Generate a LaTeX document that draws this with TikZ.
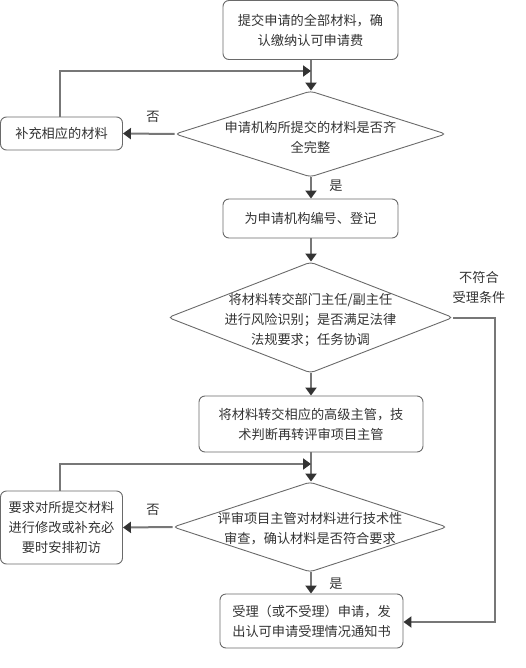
\documentclass[tikz,border=0pt]{standalone}
\usepackage{fontspec}
\setmainfont{Noto Sans CJK SC}
\usetikzlibrary{arrows.meta,shapes.geometric}
\definecolor{linegray}{HTML}{777777}
\definecolor{boxgray}{HTML}{6A6A6A}
\definecolor{tipgray}{HTML}{333333}
\definecolor{txt}{HTML}{333333}
\begin{document}
\begin{tikzpicture}[x=1pt,y=-1pt,
  every node/.style={font=\fontsize{13.2}{20}\selectfont, text=txt},
  box/.style={draw=boxgray, line width=0.9pt, rounded corners=6pt, align=center, inner sep=0pt},
  dia/.style={draw=boxgray, line width=0.9pt, diamond, rounded corners=4pt, inner sep=0pt},
  lbl/.style={align=center, inner sep=0pt},
  conn/.style={draw=linegray, line width=2pt, -{Triangle[length=8pt,width=11pt,color=tipgray]}},
  plain/.style={draw=linegray, line width=2pt}]
\useasboundingbox (0,0) rectangle (526,668);
% boxes
\node[box, minimum width=175pt, minimum height=59pt] (b1) at (310.5,30) {提交申请的全部材料，确\\认缴纳认可申请费};
\node[dia, minimum width=271pt, minimum height=86pt] (d1) at (310.5,134) {};
\node[lbl] (d1t) at (310.5,137) {申请机构所提交的材料是否齐\\全完整};
\node[box, minimum width=122pt, minimum height=33pt] (b2) at (61.5,133.5) {补充相应的材料};
\node[box, minimum width=175pt, minimum height=39pt] (b3) at (310.5,218.5) {为申请机构编号、登记};
\node[dia, minimum width=285pt, minimum height=111pt] (d2) at (310.5,317.5) {};
\node[lbl] (d2t) at (310.5,320) {将材料转交部门主任/副主任\\进行风险识别；是否满足法律\\法规要求；任务协调};
\node[box, minimum width=224pt, minimum height=56pt] (b4) at (311,424) {将材料转交相应的高级主管，技\\术判断再转评审项目主管};
\node[dia, minimum width=274pt, minimum height=90pt] (d3) at (310,527) {};
\node[lbl] (d3t) at (310,529) {评审项目主管对材料进行技术性\\审查，确认材料是否符合要求};
\node[box, minimum width=122pt, minimum height=73pt] (b5) at (61.5,527.5) {要求对所提交材料\\进行修改或补充必\\要时安排初访};
\node[box, minimum width=183pt, minimum height=54pt] (b6) at (311.5,621) {受理（或不受理）申请，发\\出认可申请受理情况通知书};
% labels
\node[lbl] (no1) at (153,117) {否};
\node[lbl] (yes1) at (336,186) {是};
\node[lbl] (no2) at (153,510) {否};
\node[lbl] (yes2) at (336,584) {是};
\node[lbl] (nc) at (479,287) {不符合\\受理条件};
% coordinates
\coordinate (j1) at (311,71);
\coordinate (j2) at (311,464);
\coordinate (r1) at (495,317.5);
\coordinate (r2) at (495,622);
% connectors
\draw[conn] (b1.south -| j1) -- (d1.north -| j1);
\draw[conn] (b2.north -| 60,0) |- (j1);
\draw[conn] (d1.west) -- (b2.east);
\draw[conn] (d1.south -| j1) -- (b3.north -| j1);
\draw[conn] (b3.south -| j1) -- (d2.north -| j1);
\draw[conn] (d2.south -| j1) -- (b4.north -| j1);
\draw[conn] (b4.south -| j1) -- (d3.north -| j1);
\draw[conn] (b5.north -| 60,0) |- (j2);
\draw[conn] (d3.west) -- (b5.east);
\draw[conn] (d3.south -| j1) -- (b6.north -| j1);
\draw[conn] (d2.east) -- (r1) -- (r2) -- (b6.east |- r2);
\end{tikzpicture}
\end{document}
